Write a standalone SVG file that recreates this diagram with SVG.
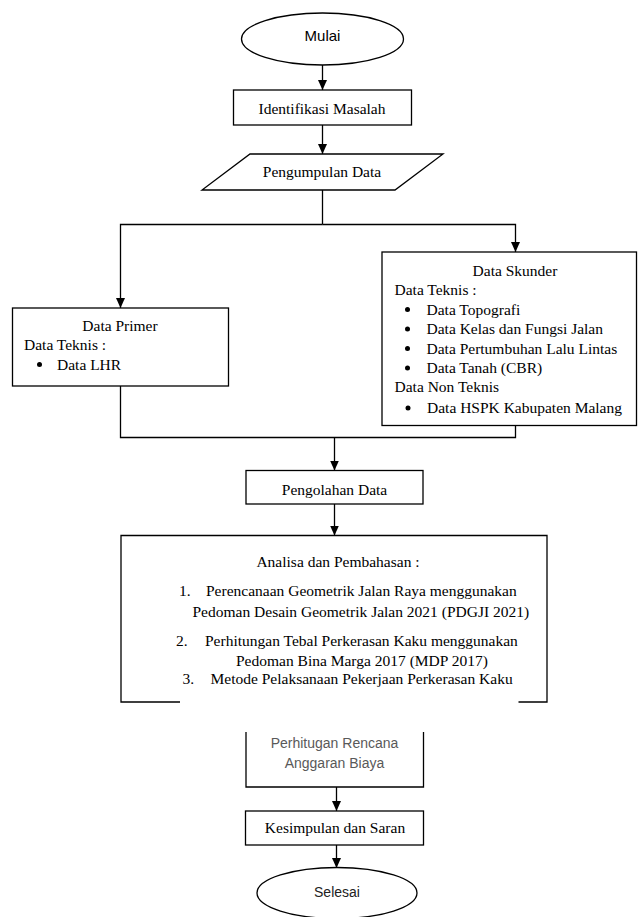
<svg xmlns="http://www.w3.org/2000/svg" width="638" height="917" viewBox="0 0 638 917">
<style>
.shape{fill:#fff;stroke:#000;stroke-width:1.3}
.open{fill:none;stroke:#000;stroke-width:1.3}
.conn{fill:none;stroke:#000;stroke-width:1.3}
.serif{font-family:"Liberation Serif","Times New Roman",serif;font-size:15.5px;fill:#000}
.sans{font-family:"Liberation Sans",Arial,sans-serif;font-size:14px;fill:#222}
.mid{text-anchor:middle}
.dot{fill:#000}
</style>
<defs>
<marker id="arrow" viewBox="0 0 10 9" markerWidth="10" markerHeight="9" refX="10" refY="4.5" orient="auto" markerUnits="userSpaceOnUse">
<path d="M0,0 L10,4.5 L0,9 z" fill="#000"/>
</marker>
</defs>
<rect width="638" height="917" fill="#fff"/>
<g id="connectors">
<path class="conn" d="M322.5,65 V90" marker-end="url(#arrow)"/>
<path class="conn" d="M322.5,125 V154" marker-end="url(#arrow)"/>
<path class="conn" d="M322.5,190 V224.5"/>
<path class="conn" d="M322.5,224.5 H120.5 V308" marker-end="url(#arrow)"/>
<path class="conn" d="M322.5,224.5 H515.5 V252" marker-end="url(#arrow)"/>
<path class="conn" d="M120.5,386 V437.5 H515.5 V425.5"/>
<path class="conn" d="M334.5,437.5 V470.5" marker-end="url(#arrow)"/>
<path class="conn" d="M334.5,504 V535.5" marker-end="url(#arrow)"/>
<path class="conn" d="M336.5,787 V811" marker-end="url(#arrow)"/>
<path class="conn" d="M336.5,845 V868" marker-end="url(#arrow)"/>
</g>
<g id="mulai">
<ellipse class="shape" cx="322.5" cy="39" rx="81" ry="26"/>
<text class="sans mid" x="322.5" y="40.5" style="font-size:15px;fill:#000">Mulai</text>
</g>
<g id="identifikasi">
<rect class="shape" x="233.5" y="90" width="178" height="35"/>
<text class="serif mid" x="322" y="113.5">Identifikasi Masalah</text>
</g>
<g id="pengumpulan">
<polygon class="shape" points="250,154 443,154 395,190 202,190"/>
<text class="serif mid" x="322" y="177">Pengumpulan Data</text>
</g>
<g id="primer">
<rect class="shape" x="12.5" y="308" width="216" height="78"/>
<text class="serif mid" x="120" y="331">Data Primer</text>
<text class="serif" x="24" y="349.5">Data Teknis :</text>
<circle class="dot" cx="39.5" cy="364.5" r="2.5"/>
<text class="serif" x="57" y="369.5">Data LHR</text>
</g>
<g id="skunder">
<rect class="shape" x="382" y="252" width="254.5" height="173.5"/>
<text class="serif mid" x="515" y="276">Data Skunder</text>
<text class="serif" x="394.5" y="294.5">Data Teknis :</text>
<circle class="dot" cx="407.5" cy="309.5" r="2.5"/>
<text class="serif" x="426.5" y="314.5">Data Topografi</text>
<circle class="dot" cx="407.5" cy="329" r="2.5"/>
<text class="serif" x="426.5" y="334">Data Kelas dan Fungsi Jalan</text>
<circle class="dot" cx="407.5" cy="348.5" r="2.5"/>
<text class="serif" x="426.5" y="353.5">Data Pertumbuhan Lalu Lintas</text>
<circle class="dot" cx="407.5" cy="368" r="2.5"/>
<text class="serif" x="426.5" y="373">Data Tanah (CBR)</text>
<text class="serif" x="394.5" y="392">Data Non Teknis</text>
<circle class="dot" cx="408" cy="408" r="2.5"/>
<text class="serif" x="427" y="413">Data HSPK Kabupaten Malang</text>
</g>
<g id="pengolahan">
<rect class="shape" x="246" y="470.5" width="177" height="33.5"/>
<text class="serif mid" x="334.5" y="494.5">Pengolahan Data</text>
</g>
<g id="analisa">
<path class="open" d="M180,702 H121 V535.5 H547 V702 H518.5"/>
<text class="serif mid" x="338" y="567">Analisa dan Pembahasan :</text>
<text class="serif" x="179" y="596">1.</text>
<text class="serif" x="206" y="596">Perencanaan Geometrik Jalan Raya menggunakan</text>
<text class="serif" x="192.5" y="617">Pedoman Desain Geometrik Jalan 2021 (PDGJI 2021)</text>
<text class="serif" x="176" y="646">2.</text>
<text class="serif" x="205" y="646">Perhitungan Tebal Perkerasan Kaku menggunakan</text>
<text class="serif" x="236" y="665.5">Pedoman Bina Marga 2017 (MDP 2017)</text>
<text class="serif" x="182.5" y="683.5">3.</text>
<text class="serif" x="210.5" y="683.5">Metode Pelaksanaan Pekerjaan Perkerasan Kaku</text>
</g>
<g id="rab">
<path class="open" d="M246,732 V787 H423.5 V732"/>
<text class="sans mid" x="334.5" y="748" style="fill:#595959">Perhitugan Rencana</text>
<text class="sans mid" x="334.5" y="768" style="fill:#595959">Anggaran Biaya</text>
</g>
<g id="kesimpulan">
<rect class="shape" x="245.5" y="811" width="178" height="34"/>
<text class="serif mid" x="335" y="833">Kesimpulan dan Saran</text>
</g>
<g id="selesai">
<ellipse class="shape" cx="337" cy="893" rx="80" ry="25.5"/>
<text class="sans mid" x="337" y="897">Selesai</text>
</g>
</svg>
